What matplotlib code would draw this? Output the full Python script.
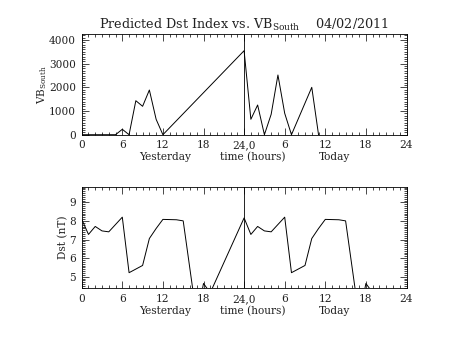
import matplotlib
matplotlib.use("Agg")
import matplotlib.pyplot as plt
from matplotlib.ticker import MultipleLocator, FixedLocator

plt.rcParams['font.family'] = ['DejaVu Serif']
plt.rcParams['mathtext.fontset'] = 'custom'
plt.rcParams['mathtext.rm'] = 'DejaVu Serif'

# Southward IMF coupling (VB_south) by hour, yesterday 0-24, today 24-48
vb_hours = [0, 1, 2, 3, 4, 5, 6, 7, 8, 9, 10, 11, 12, 24, 25, 26, 27, 28, 29, 30, 31, 34, 35]
vb_values = [0, 0, 0, 0, 0, 0, 228, 0, 1436, 1200, 1888, 650, 0,
             3549, 650, 1255, 0, 862, 2522, 904, 0, 2002, 0]

# Predicted Dst index by hour
dst_hours = [0, 1, 2, 3, 4, 6, 7, 9, 10, 11, 12, 14, 15, 17, 18, 19,
             24, 25, 26, 27, 28, 30, 31, 33, 34, 35, 36, 38, 39, 41, 42, 43]
dst_values = [8.10, 7.28, 7.71, 7.47, 7.42, 8.21, 5.22, 5.61, 7.06, 7.60, 8.09, 8.07, 8.01, 2.80, 4.64, 4.14,
              8.17, 7.28, 7.71, 7.47, 7.42, 8.21, 5.22, 5.61, 7.06, 7.60, 8.09, 8.07, 8.01, 2.80, 4.64, 4.14]

tick_pos = [0, 6, 12, 18, 24, 30, 36, 42, 48]
tick_labels = ['0', '6', '12', '18', '24,0', '6', '12', '18', '24']
day_labels = ['Yesterday', 'time (hours)', 'Today']
day_label_x = [0.258, 0.527, 0.777]

W, H = 453, 340
fig = plt.figure(figsize=(W / 100, H / 100), dpi=100)
fig.patch.set_facecolor('white')

left = 81.7 / W
width = 324.8 / W
ax1 = fig.add_axes([left, 1 - 134.7 / H, width, 100.7 / H])
ax2 = fig.add_axes([left, 1 - 288.3 / H, width, 101.6 / H])

fs = 7.6
lw = 0.7
txt = '#222222'


def style_axis(ax, ymajor, yminor):
    ax.set_xlim(0, 48)
    ax.xaxis.set_major_locator(FixedLocator(tick_pos))
    ax.xaxis.set_minor_locator(MultipleLocator(1))
    ax.set_xticklabels(tick_labels, fontsize=fs)
    ax.yaxis.set_major_locator(MultipleLocator(ymajor))
    ax.yaxis.set_minor_locator(MultipleLocator(yminor))
    ax.tick_params(which='both', direction='in', top=True, right=True,
                   width=0.5, colors='black', labelcolor=txt, labelsize=fs, pad=4)
    ax.tick_params(which='major', length=5)
    ax.tick_params(which='minor', length=2.5)
    for s in ax.spines.values():
        s.set_linewidth(0.6)
    ax.axvline(24, color='black', lw=0.6)
    for lab, xf in zip(day_labels, day_label_x):
        ax.text(xf, -0.22, lab, transform=ax.transAxes, ha='center', va='center',
                fontsize=fs, color=txt)


ax1.plot(vb_hours, vb_values, color='black', lw=lw, clip_on=True)
ax1.set_ylim(0, 4254)
style_axis(ax1, 1000, 100)
ax1.set_ylabel('VB$_{\\rm South}$', fontsize=fs, labelpad=0, color=txt)
ax1.set_title('Predicted Dst Index vs. VB$_{\\rm South}$    04/02/2011', fontsize=9.2, pad=4, color=txt)

ax2.plot(dst_hours, dst_values, color='black', lw=lw)
ax2.set_ylim(4.38, 9.85)
style_axis(ax2, 1, 0.1)
ax2.set_ylabel('Dst (nT)', fontsize=fs, labelpad=1, color=txt)

fig.savefig('out.png', dpi=100, facecolor='white')
